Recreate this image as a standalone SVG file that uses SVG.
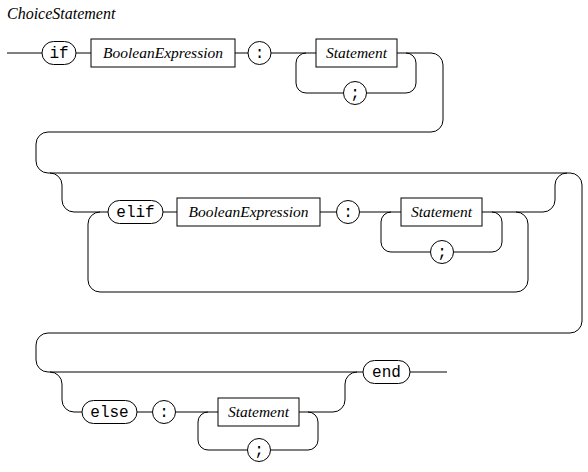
<svg xmlns="http://www.w3.org/2000/svg" width="588" height="472" viewBox="0 0 588 472">
<style>
.ln{fill:none;stroke:#000;stroke-width:1}
.sh{fill:#fff;stroke:#000;stroke-width:1}
</style>
<rect width="588" height="472" fill="#fff"/>
<text x="7" y="19" font-family="Liberation Serif, serif" font-style="italic" font-size="16">ChoiceStatement</text>
<g id="connectors" class="ln">
<path d="M7,53H42M76,53H91M235,53H248M271,53H316M397,53H431A12,12 0 0 1 443,65V120A12,12 0 0 1 431,132H48A12,12 0 0 0 36,144V161A12,12 0 0 0 48,173H570A12,12 0 0 1 582,185V321A12,12 0 0 1 570,333H48A12,12 0 0 0 36,345V360A12,12 0 0 0 48,372H363M410,372H447"/>
<path d="M306,53A10,10 0 0 0 296,63V83A10,10 0 0 0 306,93H343.5M366.5,93H406A10,10 0 0 0 416,83V63A10,10 0 0 0 406,53"/>
<path d="M50,173A12,12 0 0 1 62,185V200A12,12 0 0 0 74,212H108M163,212H177M320,212H336.5M359.5,212H401M482,212H543A12,12 0 0 0 555,200V185A12,12 0 0 1 567,173"/>
<path d="M100,212A12,12 0 0 0 88,224V280A12,12 0 0 0 100,292H516A12,12 0 0 0 528,280V224A12,12 0 0 0 516,212"/>
<path d="M391,212A10,10 0 0 0 381,222V242A10,10 0 0 0 391,252H430.5M453.5,252H492A10,10 0 0 0 502,242V222A10,10 0 0 0 492,212"/>
<path d="M50,372A12,12 0 0 1 62,384V400A12,12 0 0 0 74,412H82M137,412H152.5M175.5,412H218M299,412H333A12,12 0 0 0 345,400V384A12,12 0 0 1 357,372"/>
<path d="M208,412A10,10 0 0 0 198,422V440A10,10 0 0 0 208,450H247.5M270.5,450H308A10,10 0 0 0 318,440V422A10,10 0 0 0 308,412"/>
</g>
<g font-family="Liberation Mono, monospace" font-size="16" text-anchor="middle">
<g id="if"><rect class="sh" x="42" y="41.5" width="34" height="23" rx="11.5"/><text x="59" y="58">if</text></g>
<g id="colon1"><circle class="sh" cx="259.5" cy="53" r="11.5"/><text x="259.5" y="58">:</text></g>
<g id="semi1"><circle class="sh" cx="355" cy="93" r="11.5"/><text x="355" y="98">;</text></g>
<g id="elif"><rect class="sh" x="108" y="200.5" width="55" height="23" rx="11.5"/><text x="135.5" y="217">elif</text></g>
<g id="colon2"><circle class="sh" cx="348" cy="212" r="11.5"/><text x="348" y="217">:</text></g>
<g id="semi2"><circle class="sh" cx="442" cy="252" r="11.5"/><text x="442" y="257">;</text></g>
<g id="else"><rect class="sh" x="82" y="400.5" width="55" height="23" rx="11.5"/><text x="109.5" y="417">else</text></g>
<g id="colon3"><circle class="sh" cx="164" cy="412" r="11.5"/><text x="164" y="417">:</text></g>
<g id="semi3"><circle class="sh" cx="259" cy="450" r="11.5"/><text x="259" y="455">;</text></g>
<g id="end"><rect class="sh" x="363" y="360.5" width="47" height="23" rx="11.5"/><text x="386.5" y="377">end</text></g>
</g>
<g font-family="Liberation Serif, serif" font-style="italic" font-size="15.5" text-anchor="middle">
<g id="boolexpr1"><rect class="sh" x="91" y="39" width="144" height="28"/><text x="163" y="58">BooleanExpression</text></g>
<g id="statement1"><rect class="sh" x="316" y="39" width="81" height="28"/><text x="356.5" y="58">Statement</text></g>
<g id="boolexpr2"><rect class="sh" x="177" y="198" width="143" height="28"/><text x="248.5" y="217">BooleanExpression</text></g>
<g id="statement2"><rect class="sh" x="401" y="198" width="81" height="28"/><text x="441.5" y="217">Statement</text></g>
<g id="statement3"><rect class="sh" x="218" y="398" width="81" height="28"/><text x="258.5" y="417">Statement</text></g>
</g>
</svg>
